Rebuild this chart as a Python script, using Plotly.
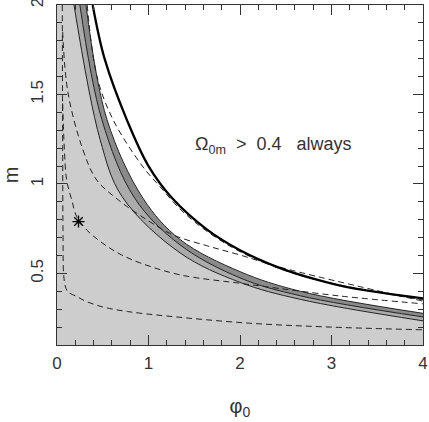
import plotly.graph_objects as go

# curve readings (phi_0, m)
C1_PHI = [0.186, 0.47, 0.71, 1.344, 2.0, 2.66, 4.0]
C1_M = [2.0, 1.25, 0.93, 0.615, 0.45, 0.355, 0.235]

C2_PHI = [0.25, 0.49, 0.85, 1.344, 2.0, 2.66, 4.0]
C2_M = [2.0, 1.36, 0.92, 0.66, 0.475, 0.375, 0.257]

C3_PHI = [0.317, 0.546, 0.94, 1.344, 2.0, 2.66, 4.0]
C3_M = [2.0, 1.36, 0.92, 0.69, 0.51, 0.40, 0.277]

THICK_PHI = [0.39, 0.52, 0.77, 1.0, 1.26, 1.64, 2.0, 2.44, 2.84, 3.2, 4.0]
THICK_M = [2.0, 1.70, 1.35, 1.10, 0.92, 0.745, 0.63, 0.53, 0.465, 0.42, 0.36]

D1_PHI = [0.058, 0.062, 0.066, 0.072, 0.09, 0.12, 0.22, 0.31, 0.42, 0.52, 0.77, 1.2, 2.1, 3.0, 4.0]
D1_M = [2.0, 1.2, 0.7, 0.5, 0.43, 0.397, 0.37, 0.345, 0.325, 0.31, 0.287, 0.262, 0.222, 0.2, 0.185]

D2_PHI = [0.062, 0.08, 0.106, 0.161, 0.215, 0.325, 0.451, 0.579, 0.707, 0.907, 1.344, 2.0, 2.25, 3.09, 4.0]
D2_M = [1.45, 1.2, 1.02, 0.911, 0.817, 0.743, 0.687, 0.641, 0.603, 0.559, 0.492, 0.445, 0.428, 0.374, 0.33]

D3_PHI = [0.33, 0.437, 0.612, 0.94, 1.126, 1.344, 1.64, 2.0, 2.5, 3.0, 4.0]
D3_M = [2.0, 1.6, 1.36, 1.095, 0.985, 0.86, 0.735, 0.622, 0.515, 0.445, 0.352]

D4_PHI = [0.062, 0.12, 0.284, 0.434, 0.67, 0.98, 1.27, 1.636, 2.0, 2.437, 4.0]
D4_M = [1.85, 1.51, 1.19, 1.022, 0.911, 0.80, 0.715, 0.655, 0.603, 0.535, 0.345]

STAR_PHI = [0.235]
STAR_M = [0.79]

X_RANGE = [0, 4]
Y_RANGE = [0.1, 2]

LIGHT = '#cdcdcd'
MID = '#ababab'
DARK = '#8a8a8a'
TEXT = '#333333'

fig = go.Figure()

thin = dict(color='#222222', width=1, shape='spline')

# band boundaries, each filled to the previous one
fig.add_trace(go.Scatter(x=C1_PHI, y=C1_M, mode='lines', line=thin))
fig.add_trace(go.Scatter(x=C2_PHI, y=C2_M, mode='lines', line=thin,
                         fill='tonexty', fillcolor=MID))
fig.add_trace(go.Scatter(x=C3_PHI, y=C3_M, mode='lines', line=thin,
                         fill='tonexty', fillcolor=DARK))
# white region above the dark band
fig.add_trace(go.Scatter(x=[C3_PHI[0], X_RANGE[1]], y=[Y_RANGE[1], Y_RANGE[1]],
                         mode='lines', line=dict(width=0),
                         fill='tonexty', fillcolor='white'))

dash = dict(color='#222222', width=1, dash='6px,4px', shape='spline')
for xs, ys in [(D1_PHI, D1_M), (D2_PHI, D2_M), (D3_PHI, D3_M), (D4_PHI, D4_M)]:
    fig.add_trace(go.Scatter(x=xs, y=ys, mode='lines', line=dash))

fig.add_trace(go.Scatter(x=THICK_PHI, y=THICK_M, mode='lines',
                         line=dict(color='black', width=2.3, shape='spline')))

fig.add_trace(go.Scatter(x=STAR_PHI, y=STAR_M, mode='markers',
                         marker=dict(symbol='asterisk-open', size=10, color='black',
                                     line=dict(color='black', width=1.3))))

fig.add_annotation(x=2.37, y=1.213,
                   text='Ω<sub>0m</sub>&nbsp;&nbsp;>&nbsp;&nbsp;0.4&nbsp;&nbsp;&nbsp;always',
                   showarrow=False, font=dict(size=18, color=TEXT))

axis = dict(showline=True, linecolor=TEXT, linewidth=1, mirror='allticks',
            ticks='inside', ticklen=10, tickcolor=TEXT, tickwidth=1,
            showgrid=False, zeroline=False, ticklabeloverflow='allow',
            automargin=False)

fig.update_xaxes(axis, range=X_RANGE, dtick=1, tick0=0, ticklabelstandoff=3,
                 minor=dict(ticks='inside', ticklen=5, dtick=0.2, tickcolor=TEXT),
                 title=dict(text='φ<sub>0</sub>', standoff=26))
fig.update_yaxes(axis, range=Y_RANGE, tickvals=[0.5, 1, 1.5, 2],
                 ticktext=['0.5', '1', '1.5', '2'], tickangle=-90,
                 ticklabelstandoff=6,
                 minor=dict(ticks='inside', ticklen=5, dtick=0.1, tick0=0, tickcolor=TEXT),
                 title=dict(text='m', standoff=10))

fig.update_layout(
    width=429, height=422,
    margin=dict(l=57, r=6, t=5, b=77),
    plot_bgcolor=LIGHT,
    paper_bgcolor='white',
    showlegend=False,
    font=dict(family='Liberation Sans', size=17, color=TEXT),
)

# the page's default body margin would shift the figure
fig.write_html("out.html", config={'displayModeBar': False},
               post_script="document.body.style.margin='0';")
